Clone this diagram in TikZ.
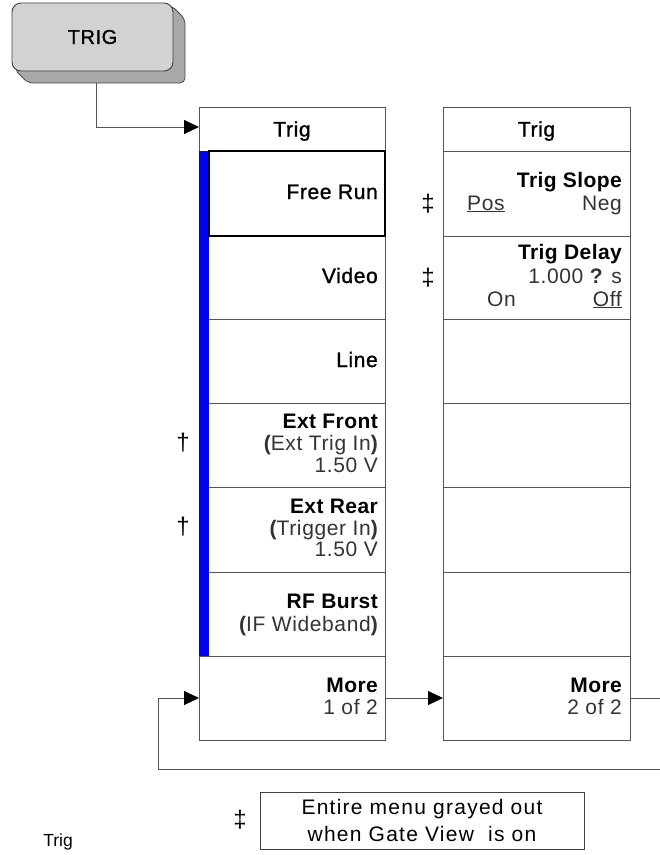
\documentclass[tikz,border=0pt]{standalone}
\usepackage{fontspec}
\setmainfont{Liberation Sans}
\newfontfamily\mfont[LetterSpace=3,FakeBold=1.2]{Liberation Sans}
\newfontfamily\bfont[LetterSpace=2]{Liberation Sans Bold}
\newfontfamily\sfont[LetterSpace=3]{Liberation Sans}
\newfontfamily\notefont[LetterSpace=6]{Liberation Sans}
\usetikzlibrary{arrows.meta}
\definecolor{frontgray}{HTML}{D2D2D2}
\definecolor{shadowgray}{HTML}{A8A8A8}
\definecolor{edgegray}{HTML}{555555}
\newcommand\mrow[4]{\node[menurow, minimum width=#2, minimum height=#3] (#1) at #4 {};}
\begin{document}
\begin{tikzpicture}[x=1pt,y=-1pt,
  menurow/.style={draw=edgegray, line width=0.9pt, inner sep=0pt, outer sep=0pt},
  lab/.style={anchor=base east, inner sep=0pt, font=\mfont\fontsize{21}{22}\selectfont},
  labb/.style={lab, font=\bfont\fontsize{21}{22}\selectfont},
  sublab/.style={lab, text=black!80, font=\sfont\fontsize{21}{22}\selectfont},
  hdr/.style={anchor=base, inner sep=0pt, font=\mfont\fontsize{21}{22}\selectfont},
  dag/.style={inner sep=0pt, font=\fontsize{24}{26}\selectfont},
  conn/.style={draw=edgegray, line width=0.9pt, -{Triangle[length=15pt,width=14pt,black]}}]
\useasboundingbox (0,0) rectangle (660,855);
\clip (0,0) rectangle (660,855);
\fill[white] (0,0) rectangle (660,855);

% TRIG hard key
\draw[fill=shadowgray, draw=black!70, line width=0.8pt, rounded corners=5pt]
  (171,5) -- (185,19) -- (185,83) -- (28,83) -- (14,69) -- (92,37) -- cycle;
\node[draw=black!75, line width=0.9pt, fill=frontgray, rounded corners=9pt,
  minimum width=161, minimum height=68, inner sep=0pt,
  font=\mfont\fontsize{20}{22}\selectfont] (trig) at (92.5,37) {TRIG};
\coordinate (trigout) at (96,83);

% left menu
\mrow{L0}{186}{44}{(292,129)}
\mrow{L1}{186}{85}{(292,193.5)}
\mrow{L2}{186}{83}{(292,277.5)}
\mrow{L3}{186}{84}{(292,361)}
\mrow{L4}{186}{84}{(292,445)}
\mrow{L5}{186}{85}{(292,529.5)}
\mrow{L6}{186}{84}{(292,614)}
\mrow{Lm}{186}{84}{(292,698)}
% right menu
\mrow{R0}{187}{44}{(536.5,129)}
\mrow{R1}{187}{85}{(536.5,193.5)}
\mrow{R2}{187}{83}{(536.5,277.5)}
\mrow{R3}{187}{84}{(536.5,361)}
\mrow{R4}{187}{84}{(536.5,445)}
\mrow{R5}{187}{85}{(536.5,529.5)}
\mrow{R6}{187}{84}{(536.5,614)}
\mrow{Rm}{187}{84}{(536.5,698)}

% blue bar and selected key
\node[fill=blue, minimum width=10, minimum height=505, inner sep=0pt, outer sep=0pt] (bar) at (204,403.5) {};
\node[draw=black, line width=2.5pt, minimum width=176, minimum height=85, inner sep=0pt] (sel) at (297,193.5) {};

% left texts
\node[hdr] (Lh) at (292,136.5) {Trig};
\node[lab] (tFree) at (378,199) {Free Run};
\node[lab] (tVideo) at (378,283) {Video};
\node[lab] (tLine) at (378,367) {Line};
\node[labb] (tEF1) at (378,428) {Ext Front};
\node[sublab] (tEF2) at (378,450) {{\bfont(}Ext Trig In{\bfont)}};
\node[sublab] (tEF3) at (378,472) {1.50 V};
\node[labb] (tER1) at (378,513) {Ext Rear};
\node[sublab] (tER2) at (378,535) {{\bfont(}Trigger In{\bfont)}};
\node[sublab] (tER3) at (378,556) {1.50 V};
\node[labb] (tRF1) at (378,608) {RF Burst};
\node[sublab] (tRF2) at (378,631) {{\bfont(}IF Wideband{\bfont)}};
\node[labb] (tM1) at (378,692) {More};
\node[sublab] (tM2) at (378,714) {1 of 2};

% right texts
\node[hdr] (Rh) at (536.5,136.5) {Trig};
\node[labb] (tTS) at (622,187) {Trig Slope};
\node[sublab, anchor=base west] (tPos) at (467,210) {\underline{Pos}};
\node[sublab] (tNeg) at (622,210) {Neg};
\node[labb] (tTD) at (622,259) {Trig Delay};
\node[sublab] (tTDv) at (622,283) {1.000 {\bfont ?} s};
\node[sublab, anchor=base west] (tOn) at (487,306) {On};
\node[sublab] (tOff) at (622,306) {\underline{Off}};
\node[labb] (tRM1) at (622,692) {More};
\node[sublab] (tRM2) at (622,714) {2 of 2};

% daggers
\node[dag] (d1) at (183,443) {†};
\node[dag] (d2) at (183,527) {†};
\node[dag] (d3) at (428,204) {‡};
\node[dag] (d4) at (428,278) {‡};
\node[dag] (d5) at (240,820) {‡};

% note box and caption
\node[draw=black!75, line width=0.9pt, minimum width=324, minimum height=57, inner sep=0pt,
  align=center, font=\notefont\fontsize{21}{27}\selectfont] (note) at (422,820.5)
  {Entire menu grayed out\\when Gate View\ \ is on};
\node[inner sep=0pt, font=\fontsize{17.5}{20}\selectfont] (cap) at (58,842) {Trig};

% connectors
\coordinate (loopR) at (680,769);
\coordinate (loopL) at (158,769);
\draw[conn] (trigout) |- ([yshift=2pt]L0.west);
\draw[conn] (Lm.east) -- (Rm.west);
\draw[conn] (Rm.east) -| (loopR) -- (loopL) |- (Lm.west);
\end{tikzpicture}
\end{document}
